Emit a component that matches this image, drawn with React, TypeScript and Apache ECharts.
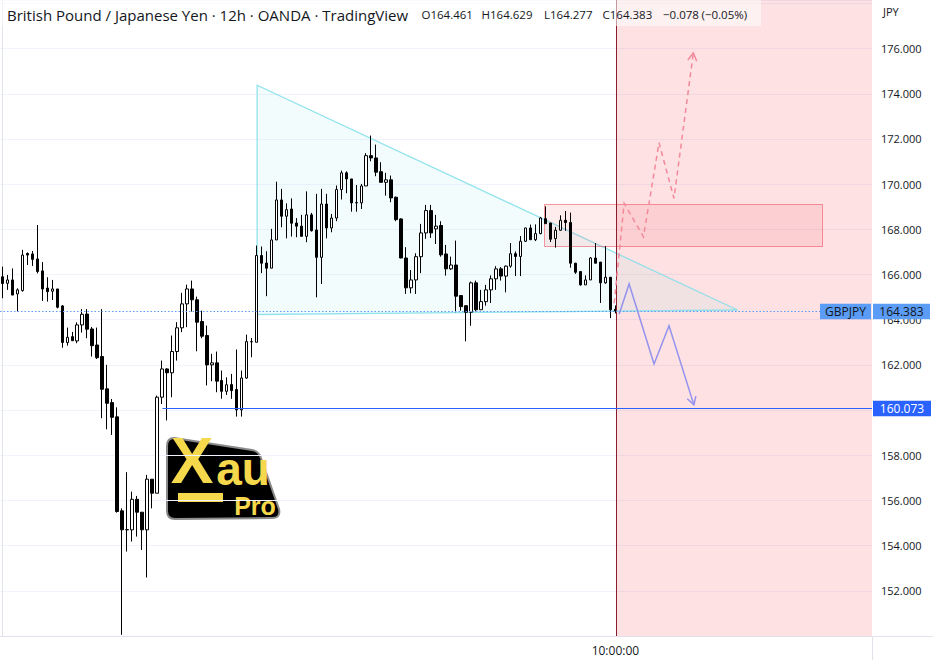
import React, { useEffect, useRef } from 'react';
import * as echarts from 'echarts';

// ---- Candle data (GBPJPY 12h) ----
const candleOpen = [
  165.90, 165.61, 165.76, 165.14, 165.29, 166.93, 166.91, 166.69, 166.16, 165.40,
  165.26, 165.36, 164.61, 162.99, 163.25, 163.06, 163.77, 164.25, 163.59, 162.88,
  162.37, 160.94, 160.33, 159.70, 155.54, 154.70, 154.70, 156.05, 155.48, 154.70,
  156.94, 156.32, 160.57, 161.82, 161.65, 162.59, 163.64, 164.70, 165.36, 164.88,
  163.92, 163.30, 162.00, 162.09, 161.31, 160.83, 161.13, 160.91, 160.01, 161.42,
  163.02, 163.00, 166.84, 166.51, 166.28, 167.53, 169.30, 168.58, 168.90, 168.28,
  168.14, 167.69, 168.64, 167.97, 166.76, 169.12, 168.06, 168.50, 169.76, 170.50,
  170.23, 169.18, 169.17, 169.92, 171.26, 171.16, 170.55, 170.08, 170.19, 169.42,
  168.46, 166.73, 165.41, 165.76, 166.79, 167.84, 168.83, 168.02, 168.17, 166.91,
  166.25, 166.42, 165.07, 164.62, 164.33, 165.63, 164.44, 164.80, 165.32, 165.81,
  166.25, 165.93, 166.37, 166.92, 166.80, 167.47, 168.06, 167.54, 167.81, 168.47,
  168.28, 167.59, 167.96, 168.40, 168.30, 166.50, 166.13, 165.54, 165.76, 166.73,
  166.55, 165.63, 165.88, 164.461,
];
const candleHigh = [
  166.35, 165.98, 166.27, 165.39, 167.09, 166.98, 167.04, 168.19, 166.55, 165.88,
  165.76, 165.36, 164.65, 163.65, 163.46, 163.88, 164.47, 164.47, 163.68, 163.65,
  164.47, 162.00, 160.49, 160.12, 155.65, 157.25, 156.39, 156.20, 155.48, 157.13,
  156.94, 160.64, 162.19, 161.85, 163.30, 163.89, 165.19, 165.55, 165.73, 165.02,
  164.40, 163.74, 162.49, 162.59, 161.75, 161.45, 161.60, 162.68, 161.75, 163.34,
  163.19, 167.28, 167.24, 167.03, 168.02, 170.11, 169.79, 169.15, 169.37, 168.50,
  168.64, 169.68, 168.73, 169.57, 169.79, 169.57, 168.68, 169.94, 170.60, 170.57,
  170.23, 169.96, 170.01, 171.37, 172.15, 171.75, 170.97, 170.50, 170.38, 169.45,
  168.49, 167.21, 166.20, 166.94, 168.24, 169.08, 169.08, 168.64, 168.36, 167.31,
  166.79, 167.50, 165.07, 164.62, 165.69, 165.73, 165.32, 165.54, 165.96, 166.37,
  166.33, 166.40, 167.39, 167.02, 167.70, 168.07, 168.21, 168.22, 168.55, 169.02,
  168.28, 168.10, 168.62, 168.81, 168.74, 166.52, 166.15, 165.96, 166.77, 167.39,
  166.55, 167.26, 165.88, 164.629,
];
const candleLow = [
  164.95, 165.32, 165.09, 164.36, 165.24, 166.42, 166.38, 166.05, 164.83, 164.80,
  164.87, 164.50, 162.76, 162.85, 163.07, 162.96, 163.43, 163.18, 162.37, 162.26,
  159.64, 159.15, 158.90, 155.46, 150.05, 153.74, 154.18, 154.40, 153.81, 152.59,
  155.65, 156.32, 160.27, 159.54, 160.57, 162.19, 163.45, 163.67, 164.36, 162.60,
  163.18, 161.09, 161.28, 160.79, 160.50, 160.67, 160.50, 159.71, 159.71, 161.38,
  162.34, 163.00, 166.06, 165.04, 166.28, 167.53, 168.09, 167.60, 167.68, 167.65,
  167.68, 167.43, 167.90, 164.99, 165.58, 167.60, 167.87, 168.36, 169.32, 169.60,
  168.78, 168.78, 168.90, 169.92, 171.01, 170.35, 170.08, 169.49, 169.20, 168.36,
  166.72, 165.14, 165.17, 165.14, 166.06, 167.58, 167.62, 167.35, 166.79, 165.95,
  166.20, 164.33, 164.40, 163.04, 163.73, 164.37, 164.44, 164.62, 164.74, 165.32,
  165.73, 165.21, 166.30, 165.93, 165.93, 167.44, 167.54, 167.48, 167.78, 168.25,
  167.44, 167.19, 167.93, 167.93, 166.30, 166.03, 165.51, 165.54, 165.76, 166.50,
  164.74, 165.59, 164.07, 164.277,
];
const candleClose = [
  165.60, 165.76, 165.09, 165.32, 166.86, 166.86, 166.67, 166.13, 165.36, 165.24,
  165.36, 164.55, 162.99, 163.22, 163.07, 163.77, 164.24, 163.58, 162.85, 162.32,
  160.92, 160.30, 159.68, 155.51, 154.70, 154.71, 156.05, 155.48, 154.70, 156.94,
  156.32, 160.57, 161.82, 161.65, 162.59, 163.64, 164.70, 165.36, 164.88, 163.89,
  163.27, 162.00, 162.09, 161.28, 160.83, 161.12, 160.86, 160.01, 161.42, 163.03,
  163.03, 166.84, 166.50, 166.28, 167.53, 169.30, 168.58, 168.87, 168.27, 168.14,
  167.69, 168.64, 167.94, 166.76, 169.12, 168.06, 168.50, 169.76, 170.50, 170.23,
  169.17, 169.17, 169.92, 171.26, 171.16, 170.53, 170.08, 170.19, 169.39, 168.43,
  166.73, 165.41, 165.76, 166.79, 167.84, 168.83, 167.84, 168.14, 166.87, 166.25,
  166.42, 165.04, 164.58, 164.33, 165.63, 164.44, 164.80, 165.32, 165.81, 166.25,
  165.93, 166.37, 166.92, 166.80, 167.47, 168.06, 167.54, 167.81, 168.50, 168.25,
  167.56, 167.96, 168.40, 168.30, 166.50, 166.10, 165.54, 165.76, 166.73, 166.50,
  165.63, 165.88, 164.44, 164.383,
];

// visible bar slots (past candles + empty future space)
const barSlots = 175;
const categories = Array.from({ length: barSlots }, (_, i) => `bar${i}`);
const timeTickBars = [123];
const timeTickLabels = ['10:00:00'];

// ---- Drawings (bar index, price) ----
const triangleBars = [51.1, 51.1, 147.5];
const trianglePrices = [174.38, 164.23, 164.43];
const zoneBars = [108.76, 164.56];
const zonePrices = [169.11, 167.26];
const bullPathBars = [122.76, 124.76, 128.64, 131.76, 134.76, 138.64];
const bullPathPrices = [164.73, 169.15, 167.67, 171.83, 169.37, 175.81];
const bearPathBars = [123.76, 125.76, 130.76, 133.76, 138.76];
const bearPathPrices = [164.25, 165.58, 162.04, 163.73, 160.23];
const markerBar = 123.3;
const supportLevel = 160.073;
const supportStartBar = 32.1;
const lastPrice = 164.383;
const symbolName = 'GBPJPY';

// ---- Axis ----
const priceMin = 150;
const priceMax = 178.15;
const priceStep = 2;
const hiddenPriceLabels = [160];

const headerTitle = 'British Pound / Japanese Yen · 12h · OANDA · TradingView';
const headerTokens = ['O164.461', 'H164.629', 'L164.277', 'C164.383', '−0.078', '(−0.05%)'];
const headerTokenX = [421.5, 481.5, 544, 602.5, 663, 701.5];

const LOGO_D =
  'M 174 438 L 252 450 Q 259 451 261 458 L 279 509 Q 281 518 272 518 L 175 519 Q 167 519 167 511 L 167 446 Q 167 438 174 438 Z';

const FONT = '"Open Sans", "Liberation Sans", sans-serif';
const INK = '#131722';

function arrowHead(p1: number[], p2: number[], len: number) {
  const dx = p1[0] - p2[0];
  const dy = p1[1] - p2[1];
  const d = Math.hypot(dx, dy) || 1;
  const ux = dx / d, uy = dy / d;
  const a = Math.PI / 6;
  const r = (ang: number) => [
    p2[0] + len * (ux * Math.cos(ang) - uy * Math.sin(ang)),
    p2[1] + len * (ux * Math.sin(ang) + uy * Math.cos(ang)),
  ];
  return [r(a), p2, r(-a)];
}

const snap = (v: number) => Math.round(v - 0.5) + 0.5;

export default function App() {
  const ref = useRef<HTMLDivElement>(null);
  useEffect(() => {
    const el = ref.current;
    if (!el) return;
    echarts.graphic.registerShape('logo', echarts.graphic.extendPath(LOGO_D, {}) as any);
    const chart = echarts.init(el, null, { renderer: 'svg' });

    const candleData = candleOpen.map((o, i) => [o, candleClose[i], candleLow[i], candleHigh[i]]);

    const bgRender = (params: any, api: any) => {
      const cs = params.coordSys;
      const right = cs.x + cs.width;
      const top = cs.y;
      const bottom = cs.y + cs.height;
      const mx = snap(api.coord([markerBar, lastPrice])[0]);
      const tri = triangleBars.map((b, i) => api.coord([b, trianglePrices[i]]));
      const z1 = api.coord([zoneBars[0], zonePrices[0]]).map(snap);
      const z2 = api.coord([zoneBars[1], zonePrices[1]]).map(snap);
      return {
        type: 'group',
        children: [
          { type: 'rect', shape: { x: mx, y: top, width: right - mx, height: bottom - top }, style: { fill: 'rgba(242,54,69,0.15)' } },
          { type: 'polygon', shape: { points: tri }, style: { fill: 'rgba(128,222,234,0.1)', stroke: 'rgba(128,222,234,0.85)', lineWidth: 1.3 } },
          {
            type: 'rect',
            shape: { x: z1[0], y: z1[1], width: z2[0] - z1[0], height: z2[1] - z1[1] },
            style: { fill: 'rgba(242,54,69,0.1)', stroke: 'rgba(242,54,69,0.5)', lineWidth: 1 },
          },
        ],
      };
    };

    const fgRender = (params: any, api: any) => {
      const cs = params.coordSys;
      const left = cs.x;
      const right = cs.x + cs.width;
      const top = cs.y;
      const bottom = cs.y + cs.height;
      const mx = snap(api.coord([markerBar, lastPrice])[0]);
      const sy = api.coord([supportStartBar, supportLevel]);
      const syy = snap(sy[1]);
      const py = snap(api.coord([0, lastPrice])[1]);
      const bull = bullPathBars.map((b, i) => api.coord([b, bullPathPrices[i]]));
      const bear = bearPathBars.map((b, i) => api.coord([b, bearPathPrices[i]]));
      const bullHead = arrowHead(bull[bull.length - 2], bull[bull.length - 1], 9);
      const bearHead = arrowHead(bear[bear.length - 2], bear[bear.length - 1], 9);
      const lblH = 15.5;
      const tag = (x: number, y: number, w: number, text: string, bg: string, fg: string) => [
        { type: 'rect', shape: { x, y: y - lblH / 2, width: w, height: lblH }, style: { fill: bg } },
        {
          type: 'text',
          style: {
            text, x: x + w / 2, y, fill: fg, font: `12px ${FONT}`,
            align: 'center', verticalAlign: 'middle', textAlign: 'center', textVerticalAlign: 'middle',
          },
        },
      ];
      return {
        type: 'group',
        children: [
          { type: 'line', shape: { x1: mx, y1: top, x2: mx, y2: bottom }, style: { stroke: '#8b1c2c', lineWidth: 1 } },
          { type: 'line', shape: { x1: sy[0], y1: syy, x2: right, y2: syy }, style: { stroke: '#2962ff', lineWidth: 1 } },
          { type: 'line', shape: { x1: left, y1: py, x2: right - 52, y2: py }, style: { stroke: '#5b9cf6', lineWidth: 1, lineDash: [1.5, 2] } },
          { type: 'polyline', shape: { points: bull }, style: { stroke: '#f4899a', lineWidth: 1.5, lineDash: [5, 4], fill: null } },
          { type: 'polyline', shape: { points: bullHead }, style: { stroke: '#f4899a', lineWidth: 1.5, fill: null } },
          { type: 'polyline', shape: { points: bear }, style: { stroke: '#9393ee', lineWidth: 1.5, fill: null } },
          { type: 'polyline', shape: { points: bearHead }, style: { stroke: '#9393ee', lineWidth: 1.5, fill: null } },
          ...tag(right - 52, py, 51, symbolName, '#5b9cf6', INK),
          ...tag(right + 1, py, 57, lastPrice.toFixed(3), '#5b9cf6', INK),
          ...tag(right + 1, syy, 58, supportLevel.toFixed(3), '#2962ff', '#ffffff'),
        ],
      };
    };

    const txt = (text: string, x: number, y: number, size: number, extra: any = {}) => ({
      type: 'text',
      z: 100,
      style: {
        text, x, y, fill: INK, font: `${size}px ${FONT}`,
        verticalAlign: 'middle', textVerticalAlign: 'middle', ...extra,
      },
    });

    const logoText = (text: string, x: number, y: number, size: number) => ({
      type: 'text',
      style: {
        text, x, y, fill: '#f5d84b', font: `bold ${size}px "Liberation Sans", sans-serif`,
        align: 'center', verticalAlign: 'middle', textAlign: 'center', textVerticalAlign: 'middle',
      },
    });

    const option: any = {
      animation: false,
      backgroundColor: '#ffffff',
      grid: { left: -3, right: 61, top: 0, bottom: 24, containLabel: false },
      xAxis: [
        {
          type: 'category',
          data: categories,
          boundaryGap: true,
          axisLine: { show: true, lineStyle: { color: '#e0e3eb' } },
          axisTick: { show: false },
          splitLine: { show: false },
          axisLabel: {
            interval: (i: number) => timeTickBars.includes(i),
            formatter: (_v: string, i: number) => {
              const k = timeTickBars.indexOf(i);
              return k >= 0 ? timeTickLabels[k] : '';
            },
            color: INK,
            fontSize: 12,
            fontFamily: FONT,
            margin: 8,
          },
        },
        { type: 'value', min: -0.5, max: barSlots - 0.5, show: false, splitLine: { show: false } },
      ],
      yAxis: {
        type: 'value',
        position: 'right',
        min: priceMin,
        max: priceMax,
        interval: priceStep,
        axisLine: { show: true, lineStyle: { color: '#e0e3eb' } },
        axisTick: { show: false },
        splitLine: { show: true, lineStyle: { color: '#f0f3fa', width: 1 } },
        axisLabel: {
          color: INK,
          fontSize: 11,
          fontFamily: FONT,
          margin: 9,
          formatter: (v: number) =>
            v > priceMin + 1 && v < priceMax - 1.5 && !hiddenPriceLabels.includes(v) ? v.toFixed(3) : '',
        },
      },
      series: [
        {
          type: 'custom',
          xAxisIndex: 1,
          yAxisIndex: 0,
          z: 1,
          silent: true,
          data: [[60, 165]],
          renderItem: bgRender,
        },
        {
          type: 'candlestick',
          xAxisIndex: 0,
          yAxisIndex: 0,
          z: 2,
          barWidth: 3,
          data: candleData,
          itemStyle: {
            color: '#ffffff',
            color0: '#000000',
            borderColor: '#000000',
            borderColor0: '#000000',
            borderColorDoji: '#000000',
            borderWidth: 1,
          },
        },
        {
          type: 'custom',
          xAxisIndex: 1,
          yAxisIndex: 0,
          z: 3,
          silent: true,
          data: [[60, 165]],
          renderItem: fgRender,
        },
      ],
      graphic: [
        { type: 'rect', z: 99, shape: { x: 0, y: 0, width: 761, height: 26 }, style: { fill: 'rgba(255,255,255,0.55)' } },
        txt(headerTitle, 7, 14.5, 15),
        ...headerTokens.map((t, i) => txt(t, headerTokenX[i], 14.5, 11.5)),
        txt('JPY', 883, 11, 11),
        { type: 'line', z: 100, shape: { x1: 872.5, y1: 636, x2: 872.5, y2: 660 }, style: { stroke: '#e0e3eb', lineWidth: 1 } },
        { type: 'line', z: 100, shape: { x1: 872, y1: 636.5, x2: 933, y2: 636.5 }, style: { stroke: '#e0e3eb', lineWidth: 1 } },
        {
          type: 'group',
          z: 50,
          children: [
            { type: 'logo', x: 0, y: 0, style: { fill: '#000000', stroke: '#8a8a8a', lineWidth: 2 } },
            logoText('X', 192, 461, 64),
            logoText('au', 243, 469, 46),
            { type: 'rect', shape: { x: 178, y: 493, width: 45, height: 9 }, style: { fill: '#f5d84b' } },
            logoText('Pro', 255, 506, 25),
          ],
        },
      ],
    };

    chart.setOption(option);
    return () => chart.dispose();
  }, []);
  return <div ref={ref} style={{ position: 'fixed', left: 0, top: 0, width: 933, height: 660 }} />;
}
